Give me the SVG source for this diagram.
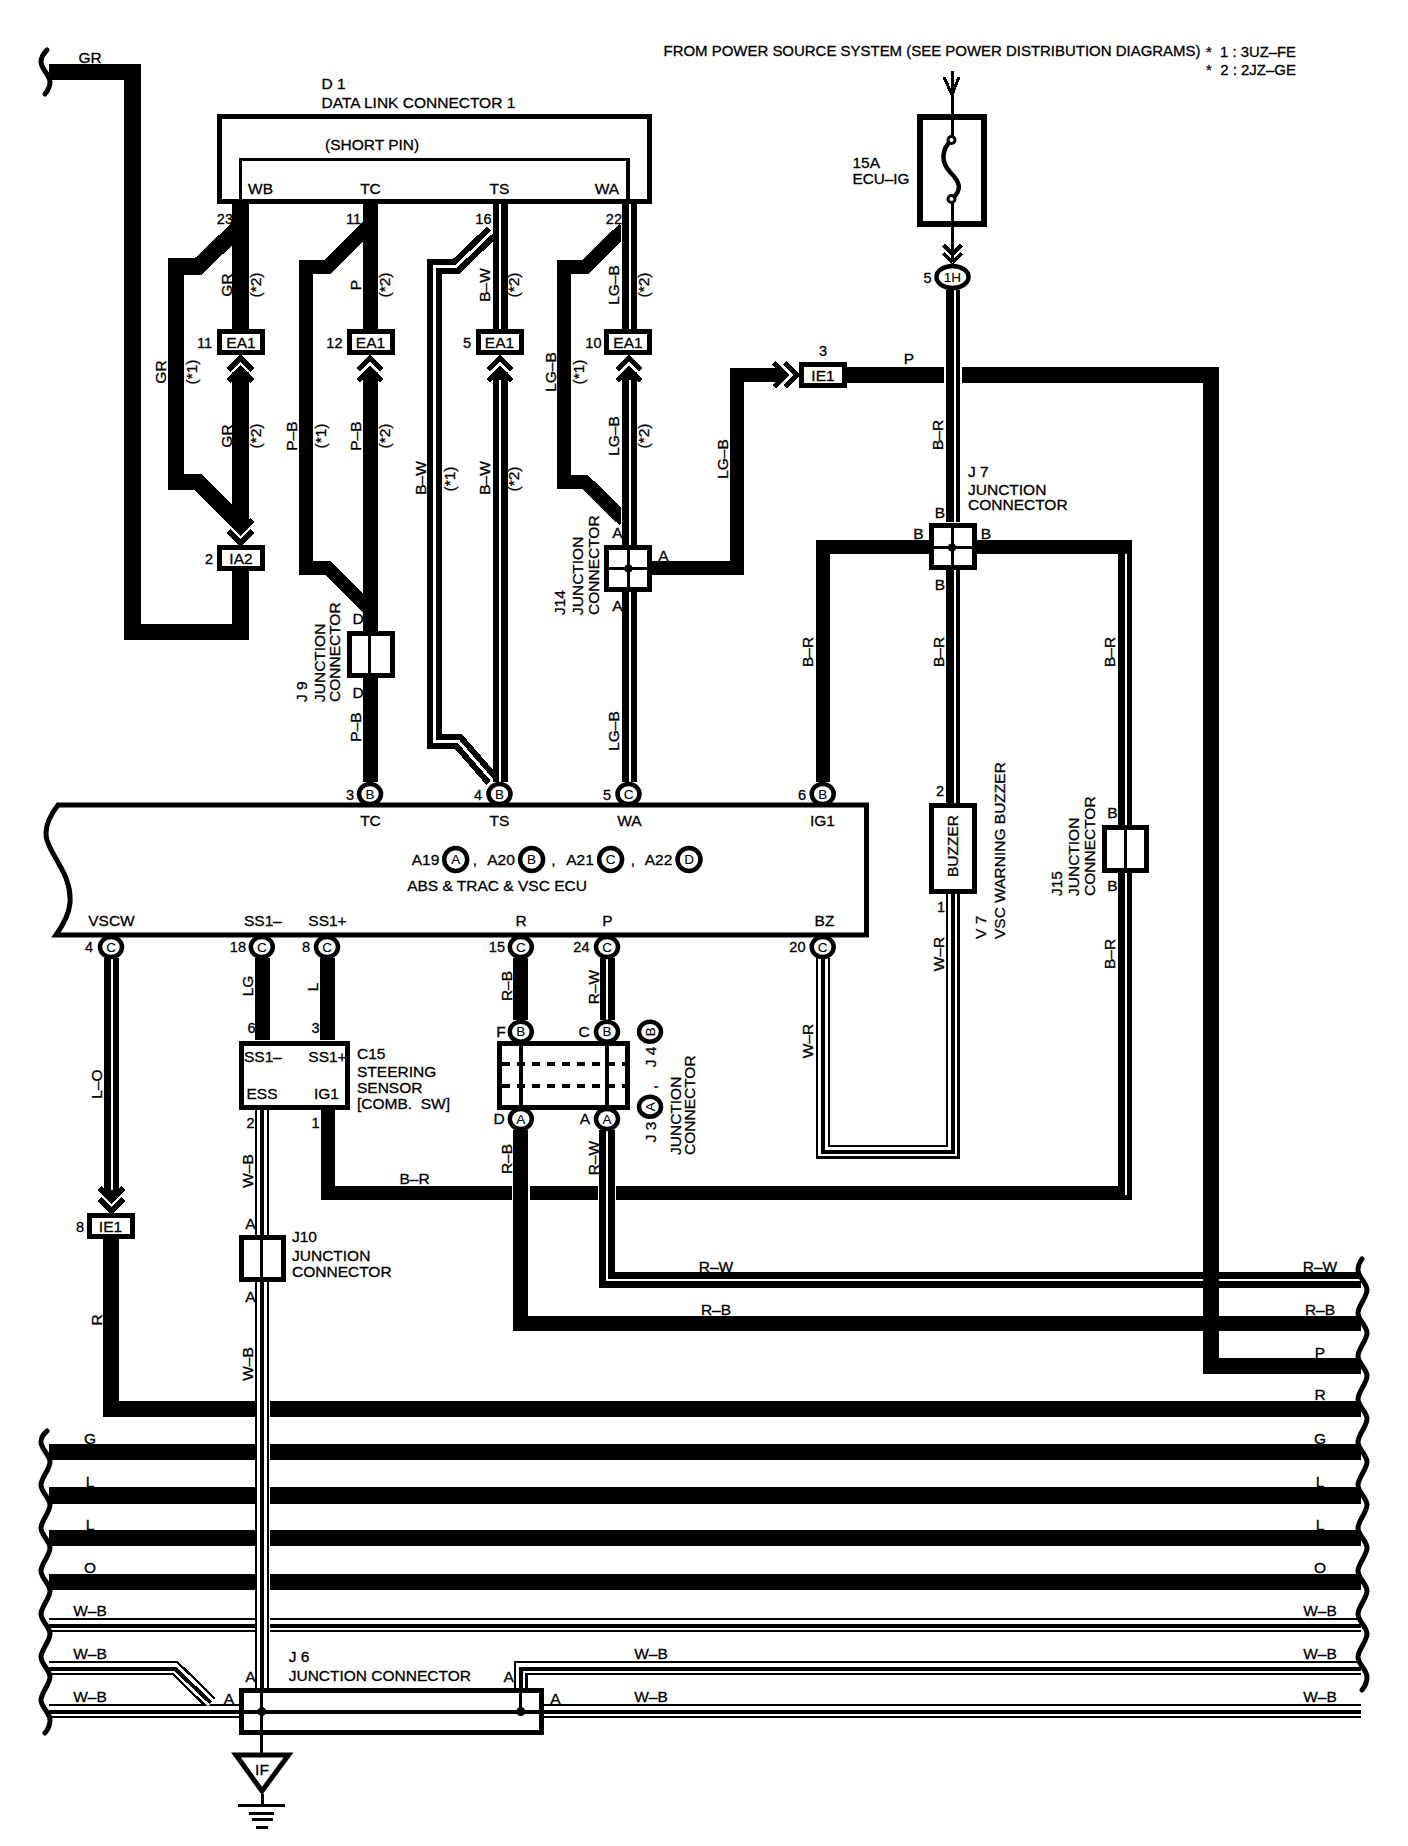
<svg xmlns="http://www.w3.org/2000/svg" xmlns:xlink="http://www.w3.org/1999/xlink" width="1408" height="1846" viewBox="0 0 1408 1846">
<style>
text{font-family:"Liberation Sans",Arial,sans-serif;font-size:15.500px;fill:#000;stroke:#000;stroke-width:.3}
.c{text-anchor:middle;dominant-baseline:central}
.p{text-anchor:middle;dominant-baseline:central;font-size:13.500px;stroke-width:.1}
.m{text-anchor:middle}
.e{text-anchor:end}
.n{font-size:14.500px}
path,rect,line,ellipse,polygon{shape-rendering:crispEdges}
.w,.k,.u,.s,.t1,.t2,.t3,.b,.l{fill:none;stroke-linejoin:miter}
.w{stroke:#000;stroke-width:15}
.k{stroke:#000;stroke-width:16.500}
.u{stroke:#fff;stroke-width:18}
.s{stroke:#fff;stroke-width:2}
.t1{stroke:#000;stroke-width:14}
.t2{stroke:#fff;stroke-width:9.500}
.t3{stroke:#000;stroke-width:4}
.b{stroke:#000;stroke-width:5}
.l{stroke:#000;stroke-width:3}
.f{fill:#fff;stroke:#000;stroke-width:5}
.pin{fill:#fff;stroke:#000;stroke-width:4.500;shape-rendering:auto}
.wave{fill:none;stroke:#000;stroke-width:5;stroke-linecap:round;shape-rendering:auto}
.ch{fill:none;stroke:#000;stroke-width:5.500}
</style>
<defs>
<g id="chev"><path class="ch" d="M-12 14L0 2L12 14M-12 25L0 13L12 25"/></g>
</defs>
<g id="connectors">
<path class="wave" d="M47 50Q41 56 41 62c0 7 9 13 9 20q0 6-5 12"/>
<path class="k" d="M49 72H132.500V632H240.400V570"/>
<path class="k" d="M240.400 226L198 266.500H176V482H198L240.400 524"/>
<path class="k" d="M240.400 204V329M240.400 372V528"/>
<path class="w" style="stroke-width:14" d="M370 224.500L328 266.500H305.500V568H328L370 610"/>
<path class="w" d="M370 204V329M370 372V782"/>
<path class="w" d="M492 232L456 266.500H434V741H458L492 780"/>
<path class="s" style="stroke-width:3" d="M492 232L456 266.500H434V741H458L492 780"/>
<path class="w" d="M500 204V329M500 372V782"/>
<path class="s" d="M500 204V329M500 380V782"/>
<path class="w" style="stroke-width:14" d="M624 229L586 266.500H564V482H585L624 520"/>
<rect x="620.500" y="215" width="3" height="40" fill="#fff"/>
<rect x="620.500" y="498" width="3" height="40" fill="#fff"/>
<path class="w" d="M629 204V329M629 372V782"/>
<path class="s" d="M630 204V329M630 380V782"/>
<path class="w" style="stroke-width:14" d="M652 568H736.500V374.500H782"/>
<path class="k" style="stroke-width:16" d="M847 375H1219"/>
<path class="w" d="M929 547H823V782" style="stroke-width:14"/>
<path class="w" d="M976 547H1125V1193H327.500V1110" style="stroke-width:14"/>
<path class="s" d="M1126 554V1195"/>
<path class="u" d="M952.500 290V522"/>
<path class="w" style="stroke-width:14" d="M952.500 290V522M952.500 570V803"/>
<path class="s" d="M955 290V522M955 570V803"/>
<path class="t1" d="M823 958V1151.500H952.700V894"/>
<path class="t2" d="M823 958V1151.500H952.700V894"/>
<path class="t3" d="M823 958V1151.500H952.700V894"/>
<path class="w" d="M520.500 958V1020"/>
<path class="u" d="M520.500 1130V1323"/>
<path class="w" d="M520.500 1130V1323H1361"/>
<path class="w" d="M607 958V1020"/>
<path class="s" d="M606.500 958V1020"/>
<path class="u" d="M607 1130V1280"/>
<path class="k" d="M607 1130V1280H1361"/>
<path class="s" d="M607 1130V1280H1361"/>
<path class="k" style="stroke-width:16" d="M1211 367V1366H1361"/>
<path class="w" d="M111.500 958V1197"/>
<path class="s" d="M112.300 958V1190"/>
<path class="k" style="stroke-width:16" d="M111 1239V1409H1361"/>
<path class="w" d="M262 958V1040"/>
<path class="w" d="M327 958V1040"/>
<path class="k" d="M49 1452H1361M49 1495.300H1361M49 1538H1361M49 1582H1361"/>
<path class="t1" d="M49 1625H1361M49 1668H175L211 1703M1361 1668H520.500V1688M49 1711H239M544 1711H1361"/>
<path class="t2" d="M49 1625H1361M49 1668H175L211 1703M1361 1668H520.500V1688M49 1711H239M544 1711H1361"/>
<path class="t3" d="M49 1625.800H1361M49 1668.800H175L211 1703M1361 1668.800H520.500V1688M49 1711.800H239M544 1711.800H1361"/>
<rect x="254.500" y="1110" width="15" height="578" fill="#fff"/>
<path class="t1" d="M262 1110V1688"/>
<path class="t2" d="M262 1110V1688"/>
<path class="t3" d="M262 1110V1688"/>
<path class="wave" d="M47 1431Q41 1436 41 1442c0 7 9 13 9 20c0 7-9 16-9 23c0 7 9 13 9 20c0 7-9 16-9 23c0 7 9 13 9 20c0 7-9 16-9 23c0 7 9 13 9 20c0 7-9 16-9 23c0 7 9 13 9 20c0 7-9 16-9 23c0 7 9 13 9 20c0 7-9 16-9 23c0 7 9 13 9 20q0 7-5 13"/>
<path class="wave" d="M1362 1259Q1358 1264 1358 1270c0 7 9 13 9 20c0 7-9 16-9 23c0 7 9 13 9 20c0 7-9 16-9 23c0 7 9 13 9 20c0 7-9 16-9 23c0 7 9 13 9 20c0 7-9 16-9 23c0 7 9 13 9 20c0 7-9 16-9 23c0 7 9 13 9 20c0 7-9 16-9 23c0 7 9 13 9 20c0 7-9 16-9 23c0 7 9 13 9 20c0 7-9 16-9 23c0 7 9 13 9 20c0 7-9 16-9 23c0 7 9 13 9 20q0 7-5 13"/>
<use xlink:href="#chev" href="#chev" transform="translate(240.400,356)"/>
<use xlink:href="#chev" href="#chev" transform="translate(370,356)"/>
<use xlink:href="#chev" href="#chev" transform="translate(500,356)"/>
<use xlink:href="#chev" href="#chev" transform="translate(629,356)"/>
<use xlink:href="#chev" href="#chev" transform="translate(240.400,545) rotate(180)"/>
<use xlink:href="#chev" href="#chev" transform="translate(799,375) rotate(90)"/>
<use xlink:href="#chev" href="#chev" transform="translate(111.500,1213) rotate(180)"/>
<use xlink:href="#chev" href="#chev" transform="translate(952.500,264) rotate(180) scale(.75)"/>
<path class="l" d="M944 77L952 95L959 77"/>
<line class="l" x1="952" y1="71" x2="952" y2="140"/>
<line class="l" x1="952" y1="199" x2="952" y2="262"/>
</g>
<g id="wire-labels">
<text x="90" y="63" class="m">GR</text>
<text transform="translate(226,285) rotate(-90)" class="c">GR</text>
<text transform="translate(255,285) rotate(-90)" class="c">(*2)</text>
<text transform="translate(355,285) rotate(-90)" class="c">P</text>
<text transform="translate(384,285) rotate(-90)" class="c">(*2)</text>
<text transform="translate(484,285) rotate(-90)" class="c">B–W</text>
<text transform="translate(513,285) rotate(-90)" class="c">(*2)</text>
<text transform="translate(613,285) rotate(-90)" class="c">LG–B</text>
<text transform="translate(643,285) rotate(-90)" class="c">(*2)</text>
<text transform="translate(226,436) rotate(-90)" class="c">GR</text>
<text transform="translate(255,436) rotate(-90)" class="c">(*2)</text>
<text transform="translate(355,436) rotate(-90)" class="c">P–B</text>
<text transform="translate(384,436) rotate(-90)" class="c">(*2)</text>
<text transform="translate(484,478) rotate(-90)" class="c">B–W</text>
<text transform="translate(513,479) rotate(-90)" class="c">(*2)</text>
<text transform="translate(613,436) rotate(-90)" class="c">LG–B</text>
<text transform="translate(643,436) rotate(-90)" class="c">(*2)</text>
<text transform="translate(160,372) rotate(-90)" class="c">GR</text>
<text transform="translate(191,372) rotate(-90)" class="c">(*1)</text>
<text transform="translate(291,436) rotate(-90)" class="c">P–B</text>
<text transform="translate(320,436) rotate(-90)" class="c">(*1)</text>
<text transform="translate(420,478) rotate(-90)" class="c">B–W</text>
<text transform="translate(449,479) rotate(-90)" class="c">(*1)</text>
<text transform="translate(550,372) rotate(-90)" class="c">LG–B</text>
<text transform="translate(578,372) rotate(-90)" class="c">(*1)</text>
<text transform="translate(722,459) rotate(-90)" class="c">LG–B</text>
<text x="909" y="364" class="m">P</text>
<text transform="translate(937,435) rotate(-90)" class="c">B–R</text>
<text transform="translate(807.500,652) rotate(-90)" class="c">B–R</text>
<text transform="translate(938,652) rotate(-90)" class="c">B–R</text>
<text transform="translate(1109,652) rotate(-90)" class="c">B–R</text>
<text transform="translate(1109,954) rotate(-90)" class="c">B–R</text>
<text transform="translate(938,954) rotate(-90)" class="c">W–R</text>
<text transform="translate(807.500,1041) rotate(-90)" class="c">W–R</text>
<text transform="translate(355,727) rotate(-90)" class="c">P–B</text>
<text transform="translate(613,731) rotate(-90)" class="c">LG–B</text>
<text transform="translate(96,1084) rotate(-90)" class="c">L–O</text>
<text transform="translate(96,1320) rotate(-90)" class="c">R</text>
<text transform="translate(247,986) rotate(-90)" class="c">LG</text>
<text transform="translate(312,987) rotate(-90)" class="c">L</text>
<text transform="translate(506,986) rotate(-90)" class="c">R–B</text>
<text transform="translate(593,987) rotate(-90)" class="c">R–W</text>
<text transform="translate(506,1159) rotate(-90)" class="c">R–B</text>
<text transform="translate(593,1158) rotate(-90)" class="c">R–W</text>
<text transform="translate(247,1171) rotate(-90)" class="c">W–B</text>
<text transform="translate(247,1364) rotate(-90)" class="c">W–B</text>
<text x="414.500" y="1184" class="m">B–R</text>
<text x="716" y="1272" class="m">R–W</text>
<text x="716" y="1315" class="m">R–B</text>
<text x="1320" y="1272" class="m">R–W</text>
<text x="1320" y="1315" class="m">R–B</text>
<text x="1320" y="1358" class="m">P</text>
<text x="1320" y="1400" class="m">R</text>
<text x="1320" y="1444" class="m">G</text>
<text x="1320" y="1487" class="m">L</text>
<text x="1320" y="1530" class="m">L</text>
<text x="1320" y="1573" class="m">O</text>
<text x="1320" y="1616" class="m">W–B</text>
<text x="1320" y="1659" class="m">W–B</text>
<text x="1320" y="1702" class="m">W–B</text>
<text x="90" y="1444" class="m">G</text>
<text x="90" y="1487" class="m">L</text>
<text x="90" y="1530" class="m">L</text>
<text x="90" y="1573" class="m">O</text>
<text x="90" y="1616" class="m">W–B</text>
<text x="90" y="1659" class="m">W–B</text>
<text x="90" y="1702" class="m">W–B</text>
<text x="651" y="1659" class="m">W–B</text>
<text x="651" y="1702" class="m">W–B</text>
</g>
<g id="note">
<text x="663.500" y="56" textLength="537" lengthAdjust="spacingAndGlyphs" style="font-size:14.500px">FROM POWER SOURCE SYSTEM (SEE POWER DISTRIBUTION DIAGRAMS)</text>
<text x="1206" y="57" textLength="90" lengthAdjust="spacingAndGlyphs" xml:space="preserve">*  1 : 3UZ–FE</text>
<text x="1206" y="75" textLength="90" lengthAdjust="spacingAndGlyphs" xml:space="preserve">*  2 : 2JZ–GE</text>
</g>
<g id="D1">
<rect class="b" x="219.500" y="116.500" width="430" height="85" fill="none"/>
<path class="l" style="stroke-width:3.500" d="M240.500 201V159.500H628V201"/>
<text x="321.500" y="89">D 1</text>
<text x="321.500" y="107.500">DATA LINK CONNECTOR 1</text>
<text x="325" y="149.500">(SHORT PIN)</text>
<text x="260.500" y="194" class="m">WB</text>
<text x="370.500" y="194" class="m">TC</text>
<text x="499.500" y="194" class="m">TS</text>
<text x="607" y="194" class="m">WA</text>
<text x="233" y="223.500" class="e n">23</text>
<text x="361" y="223.500" class="e n">11</text>
<text x="491.500" y="223.500" class="e n">16</text>
<text x="622" y="223.500" class="e n">22</text>
</g>
<g id="EA1-11"><rect class="f" x="219.500" y="331.500" width="43" height="21"/><text x="241" y="348" class="m">EA1</text><text x="212" y="348" class="e n">11</text></g>
<g id="EA1-12"><rect class="f" x="349" y="331.500" width="43" height="21"/><text x="370.500" y="348" class="m">EA1</text><text x="342.500" y="348" class="e n">12</text></g>
<g id="EA1-5"><rect class="f" x="478" y="331.500" width="43" height="21"/><text x="499.500" y="348" class="m">EA1</text><text x="471" y="348" class="e n">5</text></g>
<g id="EA1-10"><rect class="f" x="606.500" y="331.500" width="43" height="21"/><text x="628" y="348" class="m">EA1</text><text x="601.500" y="348" class="e n">10</text></g>
<g id="IA2"><rect class="f" x="219.500" y="547.500" width="43" height="21"/><text x="241" y="564" class="m">IA2</text><text x="213" y="564" class="e n">2</text></g>
<g id="IE1-3"><rect class="f" x="801.500" y="364.500" width="43" height="21"/><text x="823" y="381" class="m">IE1</text><text x="823" y="356" class="m n">3</text></g>
<g id="IE1-8"><rect class="f" x="89" y="1215.500" width="43" height="21"/><text x="110.500" y="1232" class="m">IE1</text><text x="84" y="1232" class="e n">8</text></g>
<g id="fuse">
<rect x="919.500" y="116.500" width="64" height="107" fill="none" stroke="#000" stroke-width="6"/>
<path d="M951.500 140C941 150 941 162 950 172C960 182 963 190 951.500 199" fill="none" stroke="#000" stroke-width="4.500" style="shape-rendering:auto"/>
<circle cx="951.500" cy="140" r="3.500" fill="#fff" stroke="#000" stroke-width="3"/>
<circle cx="951.500" cy="199" r="3.500" fill="#fff" stroke="#000" stroke-width="3"/>
<text x="852.500" y="168">15A</text>
<text x="852.500" y="184" textLength="57" lengthAdjust="spacingAndGlyphs">ECU–IG</text>
</g>
<g id="pin-1H"><ellipse class="pin" cx="952.500" cy="277" rx="16" ry="11"/><text x="952.500" y="277" class="p">1H</text><text x="931.500" y="283" class="e n">5</text></g>
<g id="J7">
<rect class="f" x="931.500" y="525" width="42.500" height="42.500"/>
<path class="l" d="M952.500 525V567M931 547.500H974"/>
<circle cx="952" cy="547.500" r="4"/>
<text x="968" y="476.500">J 7</text><text x="968" y="495">JUNCTION</text><text x="968" y="510">CONNECTOR</text>
<text x="940" y="512" class="c">B</text><text x="918.500" y="533" class="c">B</text><text x="986" y="533" class="c">B</text><text x="940" y="584" class="c">B</text>
</g>
<g id="J14">
<rect class="f" x="606.500" y="547.500" width="43" height="42"/>
<path class="l" d="M628.500 547V590M606 568.500H650"/>
<circle cx="628.500" cy="568.500" r="4"/>
<text x="617.500" y="532" class="c">A</text><text x="617.500" y="605" class="c">A</text><text x="663.500" y="555" class="c">A</text>
<text transform="translate(559,615) rotate(-90)" dominant-baseline="central">J14</text>
<text transform="translate(577,615) rotate(-90)" dominant-baseline="central">JUNCTION</text>
<text transform="translate(593,615) rotate(-90)" dominant-baseline="central">CONNECTOR</text>
</g>
<g id="J9">
<rect class="f" x="349" y="633" width="43" height="42"/>
<line class="l" x1="369.500" y1="633" x2="369.500" y2="675"/>
<text x="358" y="618" class="c">D</text><text x="358" y="692" class="c">D</text>
<text transform="translate(301,702) rotate(-90)" dominant-baseline="central">J 9</text>
<text transform="translate(319,702) rotate(-90)" dominant-baseline="central">JUNCTION</text>
<text transform="translate(334.500,702) rotate(-90)" dominant-baseline="central">CONNECTOR</text>
</g>
<g id="ECU">
<path d="M866.500 805H58C48 818 44 830 47 840C52 858 72 875 70 903C69 915 63 925 56 935H866.500Z" fill="#fff" stroke="#000" stroke-width="5" style="shape-rendering:auto"/>
<ellipse class="pin" cx="370" cy="794" rx="11" ry="10"/><text x="370" y="794" class="p">B</text><text x="350" y="800" class="m n">3</text>
<ellipse class="pin" cx="499.500" cy="794" rx="11" ry="10"/><text x="499.500" y="794" class="p">B</text><text x="478" y="800" class="m n">4</text>
<ellipse class="pin" cx="628.500" cy="794" rx="11" ry="10"/><text x="628.500" y="794" class="p">C</text><text x="607" y="800" class="m n">5</text>
<ellipse class="pin" cx="822.700" cy="794" rx="11" ry="10"/><text x="822.700" y="794" class="p">B</text><text x="802" y="800" class="m n">6</text>
<text x="370.500" y="826" class="m">TC</text><text x="499.500" y="826" class="m">TS</text><text x="629.500" y="826" class="m">WA</text><text x="822.500" y="826" class="m">IG1</text>
<text x="425.500" y="865" class="m">A19</text><ellipse class="pin" cx="455.700" cy="859.500" rx="11.500" ry="11.500"/><text x="455.700" y="859.500" class="p">A</text>
<text x="475" y="865" class="m">,</text>
<text x="501" y="865" class="m">A20</text><ellipse class="pin" cx="531.600" cy="859.500" rx="11.500" ry="11.500"/><text x="531.600" y="859.500" class="p">B</text>
<text x="553.500" y="865" class="m">,</text>
<text x="580" y="865" class="m">A21</text><ellipse class="pin" cx="610.600" cy="859.500" rx="11.500" ry="11.500"/><text x="610.600" y="859.500" class="p">C</text>
<text x="633" y="865" class="m">,</text>
<text x="658.500" y="865" class="m">A22</text><ellipse class="pin" cx="689" cy="859.500" rx="11.500" ry="11.500"/><text x="689" y="859.500" class="p">D</text>
<text x="497" y="890.500" class="m">ABS &amp; TRAC &amp; VSC ECU</text>
<text x="111.500" y="926" class="m">VSCW</text><text x="263" y="926" class="m">SS1–</text><text x="327.500" y="926" class="m">SS1+</text><text x="521" y="926" class="m">R</text><text x="607.500" y="926" class="m">P</text><text x="824.500" y="926" class="m">BZ</text>
<ellipse class="pin" cx="111" cy="947" rx="11" ry="10"/><text x="111" y="947" class="p">C</text><text x="93" y="952" class="e n">4</text>
<ellipse class="pin" cx="261.800" cy="947" rx="11" ry="10"/><text x="261.800" y="947" class="p">C</text><text x="246" y="952" class="e n">18</text>
<ellipse class="pin" cx="327" cy="947" rx="11" ry="10"/><text x="327" y="947" class="p">C</text><text x="310" y="952" class="e n">8</text>
<ellipse class="pin" cx="520.800" cy="947" rx="11" ry="10"/><text x="520.800" y="947" class="p">C</text><text x="505" y="952" class="e n">15</text>
<ellipse class="pin" cx="607" cy="947" rx="11" ry="10"/><text x="607" y="947" class="p">C</text><text x="589.500" y="952" class="e n">24</text>
<ellipse class="pin" cx="822.700" cy="947" rx="11" ry="10"/><text x="822.700" y="947" class="p">C</text><text x="805.500" y="952" class="e n">20</text>
</g>
<g id="V7">
<rect class="f" x="931.500" y="805.500" width="42.500" height="86"/>
<text transform="translate(952,846) rotate(-90)" class="c">BUZZER</text>
<text x="940" y="796" class="m n">2</text><text x="941" y="912" class="m n">1</text>
<text transform="translate(980.500,939) rotate(-90)" dominant-baseline="central">V 7</text>
<text transform="translate(999,939) rotate(-90)" dominant-baseline="central">VSC WARNING BUZZER</text>
</g>
<g id="J15">
<rect class="f" x="1104" y="827" width="42" height="43"/>
<line class="l" x1="1125" y1="827" x2="1125" y2="870"/>
<text x="1112.500" y="812" class="c">B</text><text x="1112.500" y="885.500" class="c">B</text>
<text transform="translate(1056,896) rotate(-90)" dominant-baseline="central">J15</text>
<text transform="translate(1073.500,896) rotate(-90)" dominant-baseline="central">JUNCTION</text>
<text transform="translate(1089.500,896) rotate(-90)" dominant-baseline="central">CONNECTOR</text>
</g>
<g id="C15">
<rect class="f" x="241.500" y="1043" width="106" height="64.500"/>
<text x="263" y="1062" class="m">SS1–</text><text x="327.500" y="1062" class="m">SS1+</text><text x="262" y="1098.500" class="m">ESS</text><text x="326.500" y="1098.500" class="m">IG1</text>
<text x="251.500" y="1032.500" class="m n">6</text><text x="315.500" y="1032.500" class="m n">3</text><text x="250.500" y="1128" class="m n">2</text><text x="315.500" y="1128" class="m n">1</text>
<text x="357" y="1059">C15</text><text x="357" y="1077">STEERING</text><text x="357" y="1093">SENSOR</text><text x="357" y="1109" xml:space="preserve">[COMB.  SW]</text>
</g>
<g id="J3-J4">
<rect class="f" x="499.500" y="1043" width="128" height="64.500"/>
<path class="l" style="stroke-width:4" d="M520.800 1043V1107M607 1043V1107"/>
<path d="M502 1064H625M502 1086H625" fill="none" stroke="#000" stroke-width="4" stroke-dasharray="8 7"/>
<ellipse class="pin" cx="520.800" cy="1031.700" rx="11" ry="10"/><text x="520.800" y="1031.700" class="p">B</text>
<ellipse class="pin" cx="607" cy="1031.700" rx="11" ry="10"/><text x="607" y="1031.700" class="p">B</text>
<ellipse class="pin" cx="520.800" cy="1119" rx="11" ry="10"/><text x="520.800" y="1119" class="p">A</text>
<ellipse class="pin" cx="607" cy="1119" rx="11" ry="10"/><text x="607" y="1119" class="p">A</text>
<text x="501" y="1037" class="m">F</text><text x="584" y="1037" class="m">C</text><text x="499" y="1124" class="m">D</text><text x="585" y="1124" class="m">A</text>
<ellipse class="pin" cx="650" cy="1031.700" rx="11" ry="10"/><text transform="translate(650,1031.700) rotate(-90)" class="p">B</text>
<ellipse class="pin" cx="650" cy="1106.700" rx="11" ry="10"/><text transform="translate(650,1106.700) rotate(-90)" class="p">A</text>
<text transform="translate(650,1057) rotate(-90)" class="c">J 4</text>
<text transform="translate(650,1087) rotate(-90)" class="c">,</text>
<text transform="translate(650,1132) rotate(-90)" class="c">J 3</text>
<text transform="translate(675.500,1155) rotate(-90)" dominant-baseline="central">JUNCTION</text>
<text transform="translate(689,1155) rotate(-90)" dominant-baseline="central">CONNECTOR</text>
</g>
<g id="J10">
<rect class="f" x="241.500" y="1237.500" width="41.500" height="42"/>
<line class="l" x1="261.800" y1="1237" x2="261.800" y2="1280"/>
<text x="250.500" y="1229" class="m">A</text><text x="250.500" y="1302" class="m">A</text>
<text x="292" y="1242">J10</text><text x="292" y="1261">JUNCTION</text><text x="292" y="1277">CONNECTOR</text>
</g>
<g id="J6">
<rect class="f" x="241.500" y="1690" width="300" height="42"/>
<path class="l" style="stroke-width:4" d="M241 1711.500H542"/>
<path class="l" d="M261.800 1690V1754M520.800 1670V1711"/>
<circle cx="261.800" cy="1711.600" r="4.500"/><circle cx="520.800" cy="1711.600" r="4.500"/>
<text x="288.700" y="1662">J 6</text><text x="288.700" y="1681">JUNCTION CONNECTOR</text>
<text x="250.500" y="1681.500" class="m">A</text><text x="229" y="1703.500" class="m">A</text><text x="508.700" y="1681.500" class="m">A</text><text x="555.400" y="1703.500" class="m">A</text>
</g>
<g id="IF">
<path d="M236 1755H288.500L262 1791Z" fill="#fff" stroke="#000" stroke-width="5" style="shape-rendering:auto"/>
<text x="262" y="1775" class="m">IF</text>
<path class="l" d="M262 1794V1805M238 1805H285M249 1813.500H274M251.500 1819H272.500M256 1827H267.500"/>
</g>
</svg>
